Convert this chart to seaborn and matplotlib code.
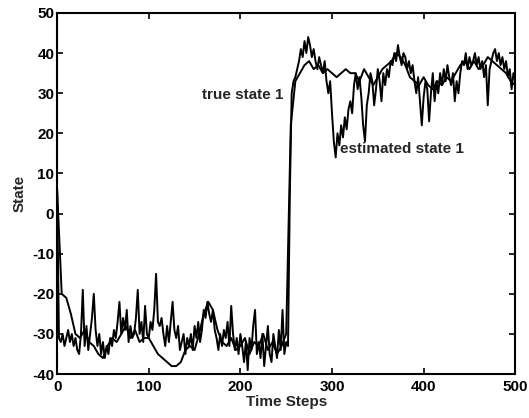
import numpy as np
import pandas as pd
import matplotlib
matplotlib.use("Agg")
import matplotlib.pyplot as plt
import seaborn as sns

# True state, sampled every 5 time steps
true_state = [
    6, -20, -21, -25, -30, -31, -29, -32, -33, -35,
    -36, -33, -31, -32, -30, -28, -31, -29, -32, -31,
    -31, -33, -35, -36, -37, -38, -38, -37, -34, -33,
    -34, -30, -25, -22, -24, -29, -32, -33, -31, -34,
    -33, -31, -35, -32, -33, -30, -34, -32, -35, -33,
    -30, 22, 33, 35, 37, 38, 36, 37, 35, 36,
    35, 34, 35, 36, 35, 35, 33, 36, 34, 32,
    34, 36, 37, 38, 40, 39, 37, 34, 33, 32,
    34, 32, 31, 33, 32, 34, 33, 35, 37, 38,
    36, 38, 36, 37, 39, 38, 37, 36, 35, 33,
    32,
]
true_step = 5

# Estimated state, sampled every 2 time steps
estimated_state = [
    6, -31, -32, -30, -33, -31, -29, -32, -30, -33,
    -31, -34, -35, -30, -19, -33, -28, -34, -30, -26,
    -20, -29, -33, -30, -35, -32, -36, -33, -35, -31,
    -33, -29, -31, -27, -22, -30, -26, -29, -24, -32,
    -28, -31, -30, -26, -19, -30, -27, -32, -23, -30,
    -31, -27, -29, -24, -15, -27, -28, -26, -30, -33,
    -28, -32, -27, -22, -29, -31, -28, -34, -32, -30,
    -35, -31, -33, -30, -34, -28, -31, -27, -32, -29,
    -24, -26, -22, -25, -27, -24, -29, -31, -34, -30,
    -33, -29, -31, -27, -33, -23, -30, -34, -31, -35,
    -30, -33, -37, -32, -39, -31, -34, -28, -24, -35,
    -32, -36, -30, -38, -33, -28, -35, -37, -30, -33,
    -36, -29, -34, -24, -35, -32, -33, 5, 30, 33,
    34, 36, 38, 41, 39, 43, 40, 44, 42, 39,
    41, 38, 36, 39, 37, 35, 38, 33, 30, 33,
    25, 18, 14, 20, 17, 22, 19, 24, 21, 26,
    28, 25, 32, 35, 31, 34, 29, 22, 18, 27,
    30, 35, 33, 27, 31, 36, 33, 28, 35, 32,
    36, 34, 38, 37, 40, 38, 42, 39, 37, 40,
    39, 36, 38, 35, 37, 33, 30, 34, 28, 22,
    29, 33, 31, 23, 30, 35, 28, 33, 30, 35,
    32, 36, 33, 37, 34, 32, 35, 28, 33, 30,
    35, 38, 37, 40, 36, 39, 37, 38, 40, 37,
    39, 36, 38, 34, 37, 27, 36, 38, 40, 41,
    38, 40, 37, 39, 36, 38, 34, 36, 31, 35,
    33,
]
est_step = 2

x_ticks = [0, 100, 200, 300, 400, 500]
y_ticks = [-40, -30, -20, -10, 0, 10, 20, 30, 40, 50]

df_true = pd.DataFrame({
    "Time Steps": np.arange(len(true_state)) * true_step,
    "State": true_state,
})
df_est = pd.DataFrame({
    "Time Steps": np.arange(len(estimated_state)) * est_step,
    "State": estimated_state,
})

sns.set_style("ticks")
plt.rcParams["font.family"] = ["Liberation Sans", "DejaVu Sans"]
plt.rcParams["axes.unicode_minus"] = False

fig = plt.figure(figsize=(5.29, 4.18), dpi=100)
ax = fig.add_axes([0.108, 0.105, 0.866, 0.864])

sns.lineplot(data=df_true, x="Time Steps", y="State", ax=ax,
             color="black", linewidth=1.4, estimator=None)
sns.lineplot(data=df_est, x="Time Steps", y="State", ax=ax,
             color="black", linewidth=1.4, estimator=None)

ax.set_xlim(0, 500)
ax.set_ylim(-40, 50)
ax.set_xticks(x_ticks)
ax.set_yticks(y_ticks)
ax.tick_params(direction="in", length=4, width=1.2, labelsize=11,
               top=True, right=True, colors="black", pad=2)
ax.tick_params(axis="x", pad=4)
for lbl in ax.get_xticklabels() + ax.get_yticklabels():
    lbl.set_fontweight("bold")
for sp in ax.spines.values():
    sp.set_visible(True)
    sp.set_linewidth(1.5)
    sp.set_color("black")

ax.set_xlabel("Time Steps", fontsize=11, fontweight="bold", labelpad=1)
ax.set_ylabel("State", fontsize=11, fontweight="bold", labelpad=4)

ax.text(247, 29.5, "true state 1", fontsize=11, fontweight="bold",
        ha="right", va="center")
ax.text(309, 16, "estimated state 1", fontsize=11, fontweight="bold",
        ha="left", va="center")

fig.savefig("out.png", dpi=100)
